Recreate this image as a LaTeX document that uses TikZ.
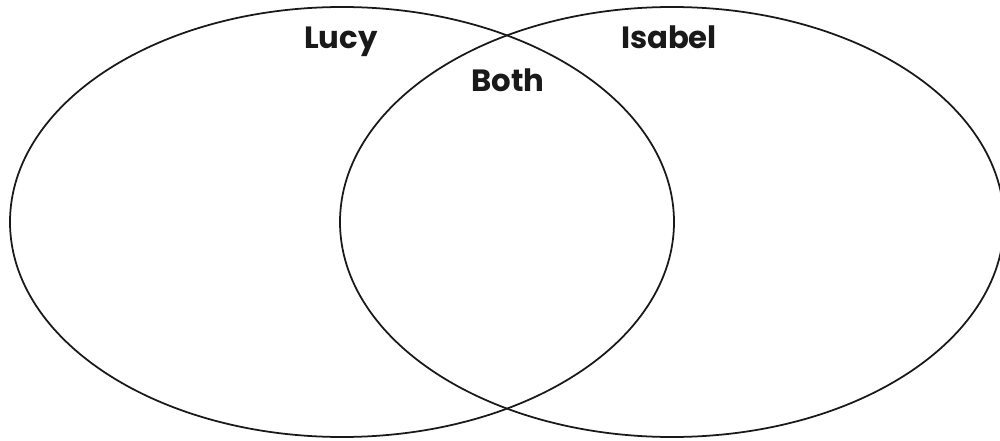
\documentclass[tikz,border=0pt]{standalone}
\usepackage{fontspec}
\setsansfont{Poppins}

\begin{document}
\begin{tikzpicture}[
  x=0.02cm, y=0.02cm,
  font=\sffamily\bfseries\fontsize{17.5}{21}\selectfont,
  ring/.style={draw=black!90, line width=1pt},
  setname/.style={anchor=base, text=black!90, inner sep=0pt}
]
\useasboundingbox (0,0) rectangle (1000,440);

% the two sets
\draw[ring] (342,218) ellipse [x radius=332, y radius=215];
\draw[ring] (672,218) ellipse [x radius=332, y radius=215];

\node[setname] (lucy) at (341,391) {Lucy};
\node[setname] (isabel) at (669,391) {Isabel};
\node[setname] (both) at (508,348) {Both};

\end{tikzpicture}
\end{document}
